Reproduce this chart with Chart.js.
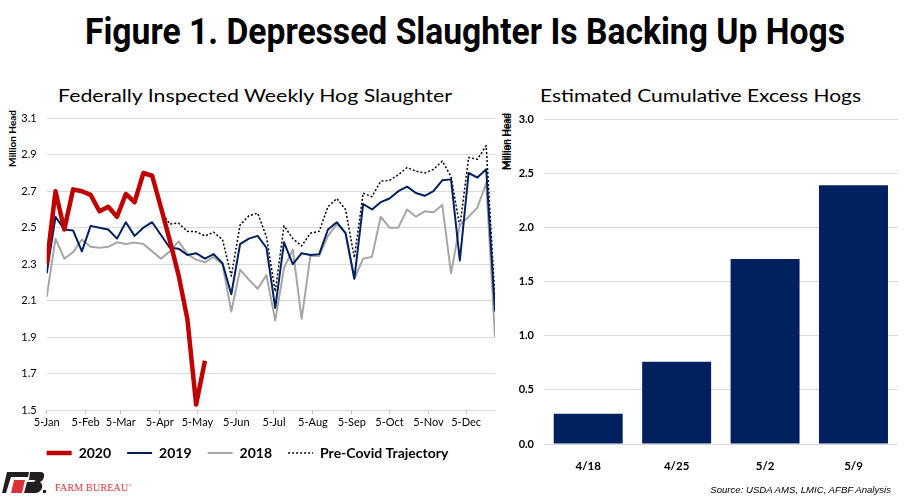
<!DOCTYPE html>
<html>
<head>
<meta charset="utf-8">
<script src="https://cdn.jsdelivr.net/npm/chart.js@4.4.1/dist/chart.umd.min.js"></script>
<style>
  html, body { margin: 0; padding: 0; background: #fff; }
  body { width: 914px; height: 503px; position: relative; overflow: hidden; font-family: Lato, "Noto Sans", sans-serif; color: #000; }
  .fit { position: absolute; white-space: nowrap; transform-origin: left center; }
  #title { top: 11px; left: 85px; font-family: Roboto, sans-serif; font-weight: 700; font-size: 36px; line-height: 42px; }
  .sub { top: 84px; font-size: 18px; line-height: 22px; }
  .unit { position: absolute; font-size: 10px; font-weight: 700; line-height: 12px; writing-mode: vertical-rl; transform: rotate(180deg); white-space: nowrap; }
  #source { position: absolute; right: 23px; top: 484px; font-family: "Liberation Sans", Arial, sans-serif; font-style: italic; font-size: 9.6px; color: #000; }
  #fbtext { position: absolute; left: 55px; top: 482px; font-family: "Liberation Serif", "DejaVu Serif", serif; font-size: 10px; color: #d8333a; letter-spacing: 0.2px; }
  #fbtext sup { font-size: 5px; }
  canvas { position: absolute; }
</style>
</head>
<body>

<div id="title" class="fit" data-w="760">Figure 1. Depressed Slaughter Is Backing Up Hogs</div>
<div id="sub1" class="fit sub" style="left:58px" data-w="394">Federally Inspected Weekly Hog Slaughter</div>
<div id="sub2" class="fit sub" style="left:540px" data-w="321">Estimated Cumulative Excess Hogs</div>

<div class="unit" style="left:6px; top:110px;">Million Head</div>
<div class="unit" style="left:499px; top:113px;">Million Head</div>
<div class="unit" style="left:501px; top:113px;">Million Head</div>

<div style="position:absolute; left:0; top:100px; width:520px; height:370px;">
  <canvas id="slaughter"></canvas>
</div>
<div style="position:absolute; left:500px; top:100px; width:414px; height:370px;">
  <canvas id="excess"></canvas>
</div>

<svg style="position:absolute; left:2px; top:472px;" width="46" height="22" viewBox="0 0 46 22">
  <polygon points="5,0 27,0 26,5 9,5 4,21 0,21" fill="#231f20"/>
  <polygon points="12,8 23,8 20,21 9,21" fill="#d8333a"/>
  <path d="M28,0 L38,0 Q43,0 42,5 Q41,9 38,10 Q41,12 40,16 Q38,21 33,21 L22,21 L25,10 L31,10 Q33,10 33.5,8 L27,8 Z" fill="#231f20"/>
  <rect x="41" y="18" width="3" height="3" fill="#231f20"/>
</svg>
<div id="fbtext">FARM BUREAU<sup>®</sup></div>
<div id="source">Source: USDA AMS, LMIC, AFBF Analysis</div>

<script>
// weekly slaughter, million head, one value per week starting 5-Jan
const hogs2020 = [2.30, 2.70, 2.49, 2.71, 2.70, 2.68, 2.59, 2.615, 2.56, 2.685,
  2.64, 2.80, 2.785, 2.61, 2.43, 2.24, 2.00, 1.53, 1.77];

const hogs2019 = [2.25, 2.56, 2.49, 2.485, 2.37, 2.51, 2.50, 2.49, 2.44, 2.53,
  2.455, 2.50, 2.53, 2.46, 2.39, 2.385, 2.35, 2.36, 2.33, 2.355,
  2.305, 2.135, 2.41, 2.44, 2.455, 2.39, 2.06, 2.42, 2.30, 2.36,
  2.35, 2.355, 2.49, 2.53, 2.47, 2.22, 2.63, 2.60, 2.64, 2.66,
  2.70, 2.725, 2.69, 2.675, 2.70, 2.76, 2.765, 2.32, 2.80, 2.775,
  2.82, 2.04];

const hogs2018 = [2.12, 2.44, 2.33, 2.365, 2.435, 2.395, 2.39, 2.395, 2.42, 2.41,
  2.418, 2.41, 2.37, 2.33, 2.37, 2.425, 2.355, 2.325, 2.31, 2.34,
  2.30, 2.04, 2.27, 2.215, 2.165, 2.24, 1.99, 2.28, 2.38, 2.00,
  2.345, 2.345, 2.455, 2.52, 2.47, 2.22, 2.33, 2.34, 2.56, 2.50,
  2.50, 2.60, 2.56, 2.59, 2.585, 2.625, 2.25, 2.515, 2.56, 2.61,
  2.745, 1.90];

// pre-covid trajectory starts at week 13
const preCovidStart = 13;
const preCovid = [2.59, 2.52, 2.525, 2.48, 2.478, 2.455, 2.475,
  2.435, 2.235, 2.515, 2.565, 2.58, 2.45, 2.15, 2.51, 2.44, 2.40,
  2.47, 2.48, 2.615, 2.66, 2.60, 2.335, 2.69, 2.67, 2.755, 2.76,
  2.79, 2.83, 2.81, 2.80, 2.82, 2.865, 2.78, 2.505, 2.885, 2.875,
  2.95, 2.10];

// month ticks, days after 5-Jan
const tickLabels = ['5-Jan', '5-Feb', '5-Mar', '5-Apr', '5-May', '5-Jun', '5-Jul', '5-Aug', '5-Sep', '5-Oct', '5-Nov', '5-Dec'];
const tickDays = [0, 31, 59, 90, 120, 151, 181, 212, 243, 273, 304, 334];

// cumulative excess hogs
const weekLabels = ['4/18', '4/25', '5/2', '5/9'];
const excessHogs = [0.28, 0.76, 1.71, 2.39];

// fit the header texts to their widths
document.querySelectorAll('.fit').forEach(function (el) {
  const w = el.getBoundingClientRect().width;
  el.style.transform = 'scaleX(' + (parseFloat(el.dataset.w) / w) + ')';
});

const toPoints = (values, start) => values.map((v, i) => ({ x: (start + i) * 7, y: v }));

Chart.defaults.font.family = 'Lato, "Noto Sans", sans-serif';
Chart.defaults.color = '#000';
Chart.defaults.animation = false;

new Chart(document.getElementById('slaughter'), {
  type: 'line',
  data: {
    datasets: [{
      label: '2020',
      data: toPoints(hogs2020, 0),
      borderColor: '#c00000',
      borderWidth: 4.5
    }, {
      label: '2019',
      data: toPoints(hogs2019, 0),
      borderColor: '#002060',
      borderWidth: 2
    }, {
      label: '2018',
      data: toPoints(hogs2018, 0),
      borderColor: '#a6a6a6',
      borderWidth: 2
    }, {
      label: 'Pre-Covid Trajectory',
      data: toPoints(preCovid, preCovidStart),
      borderColor: '#000',
      borderWidth: 1.5,
      borderDash: [2, 2]
    }]
  },
  options: {
    responsive: true,
    maintainAspectRatio: false,
    elements: { point: { radius: 0 }, line: { tension: 0, borderJoinStyle: 'round' } },
    layout: { padding: { top: 18.3, right: 25, left: 0, bottom: 0 } },
    plugins: {
      tooltip: { enabled: false },
      legend: {
        position: 'bottom',
        labels: {
          usePointStyle: true,
          pointStyle: 'line',
          pointStyleWidth: 25,
          padding: 16,
          font: { size: 14, weight: 'bold' },
          // line samples keep the dataset's width and dash
          generateLabels: function (chart) {
            const items = Chart.defaults.plugins.legend.labels.generateLabels(chart);
            items.forEach(function (item) {
              const ds = chart.data.datasets[item.datasetIndex];
              item.lineWidth = ds.borderWidth;
              item.lineDash = ds.borderDash || [];
            });
            return items;
          }
        }
      }
    },
    scales: {
      x: {
        type: 'linear',
        min: 0,
        max: 357,
        afterBuildTicks: function (scale) {
          scale.ticks = tickDays.map(d => ({ value: d }));
        },
        afterFit: function (scale) { scale.height = 20; },
        ticks: {
          autoSkip: false,
          maxRotation: 0,
          padding: 2,
          font: { size: 11 },
          callback: (v, i) => tickLabels[i]
        },
        grid: { drawOnChartArea: false, drawTicks: true, tickLength: 4, color: '#bfbfbf' },
        border: { color: '#d9d9d9' }
      },
      y: {
        min: 1.5,
        max: 3.1,
        afterFit: function (scale) { scale.width = 46.7; },
        ticks: {
          stepSize: 0.2,
          padding: 10,
          font: { size: 11 },
          callback: v => v.toFixed(1)
        },
        grid: { color: '#d9d9d9', drawTicks: false },
        border: { display: false }
      }
    }
  }
});

new Chart(document.getElementById('excess'), {
  type: 'bar',
  data: {
    labels: weekLabels,
    datasets: [{
      label: 'Excess hogs',
      data: excessHogs,
      backgroundColor: '#002060',
      barPercentage: 0.78,
      categoryPercentage: 1
    }]
  },
  options: {
    responsive: true,
    maintainAspectRatio: false,
    layout: { padding: { top: 19.3, right: 16.3, left: 0, bottom: 0 } },
    plugins: { legend: { display: false }, tooltip: { enabled: false } },
    scales: {
      x: {
        afterFit: function (scale) { scale.height = 26; },
        ticks: { padding: 7, font: { size: 11.5, weight: 'bold' } },
        grid: { display: false },
        border: { color: '#d9d9d9' }
      },
      y: {
        min: 0,
        max: 3,
        afterFit: function (scale) { scale.width = 44; },
        ticks: {
          stepSize: 0.5,
          padding: 10,
          font: { size: 11, weight: 'bold' },
          callback: v => v.toFixed(1)
        },
        grid: { color: '#d9d9d9', drawTicks: false },
        border: { display: false }
      }
    }
  }
});
</script>
</body>
</html>
